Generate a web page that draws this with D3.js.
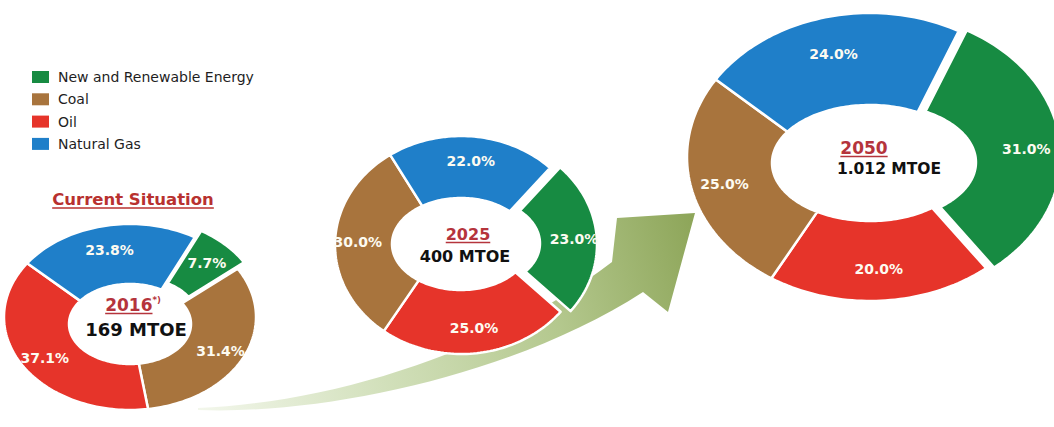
<!DOCTYPE html>
<html>
<head>
<meta charset="utf-8">
<script src="https://cdn.jsdelivr.net/npm/d3@7"></script>
<style>
  html, body { margin: 0; padding: 0; background: #ffffff; }
  svg { display: block; }
</style>
</head>
<body>
<div id="chart"></div>
<script>
// Energy mix: categories and shares (%) per year
const categories = ["New and Renewable Energy", "Coal", "Oil", "Natural Gas"];
const years = ["2016", "2025", "2050"];
const totals = ["169 MTOE", "400 MTOE", "1.012 MTOE"];
const share2016 = [7.7, 31.4, 37.1, 23.8];
const share2025 = [23.0, 30.0, 25.0, 22.0];
const share2050 = [31.0, 25.0, 20.0, 24.0];
const shares = [share2016, share2025, share2050];
const titleText = "Current Situation";

const W = 1054, H = 427;
const color = d3.scaleOrdinal()
  .domain(categories)
  .range(["#178b42", "#a8743d", "#e6342a", "#1f7fc9"]);

// Ring geometry for each donut (elliptical rings, clockwise slice order);
// the hole sits slightly below the ring centre (idy)
const layout = [
  { cx: 130, cy: 317, orx: 126, ory: 93, irx: 61, iry: 40, idy: 7, start: 31, order: [0, 1, 2, 3],
    explode: 9, yearX: 133, yearY: 311, totalX: 136, totalY: 336, yearSize: 17, totalSize: 18, sup: "*)" },
  { cx: 461, cy: 245, orx: 126, ory: 109, irx: 69, iry: 46, idy: -1, start: 45, order: [0, 2, 1, 3],
    explode: 10, yearX: 468, yearY: 240, totalX: 465, totalY: 262, yearSize: 16, totalSize: 16, sup: "" },
  { cx: 870, cy: 157, orx: 183, ory: 144, irx: 98, iry: 58, idy: 6, start: 29, order: [0, 2, 1, 3],
    explode: 8, yearX: 864, yearY: 154, totalX: 889, totalY: 174, yearSize: 17, totalSize: 15.5, sup: "" }
];
const labelT = 0.6;

const svg = d3.select("#chart").append("svg")
  .attr("width", W).attr("height", H)
  .attr("viewBox", `0 0 ${W} ${H}`);

// Growth arrow behind the donuts
const defs = svg.append("defs");
const grad = defs.append("linearGradient")
  .attr("id", "arrowGrad")
  .attr("gradientUnits", "userSpaceOnUse")
  .attr("x1", 195).attr("y1", 400).attr("x2", 700).attr("y2", 250);
grad.append("stop").attr("offset", 0).attr("stop-color", "#f3f7ec");
grad.append("stop").attr("offset", 0.35).attr("stop-color", "#d2e0bb");
grad.append("stop").attr("offset", 0.7).attr("stop-color", "#b4c88e");
grad.append("stop").attr("offset", 1).attr("stop-color", "#8ea65a");

const arrow = d3.path();
arrow.moveTo(198, 408);
arrow.bezierCurveTo(335, 402, 495, 352, 612, 262);
arrow.lineTo(617, 218);
arrow.lineTo(695, 213);
arrow.lineTo(668, 312);
arrow.lineTo(643, 292);
arrow.bezierCurveTo(520, 372, 330, 415, 198, 410);
arrow.closePath();
svg.append("path").attr("d", arrow.toString()).attr("fill", "url(#arrowGrad)");

// Elliptical ring segment between angles a0..a1
function ringPath(a0, a1, g) {
  const n = Math.max(8, Math.ceil((a1 - a0) / (Math.PI / 120)));
  const angs = d3.range(n + 1).map(i => a0 + (a1 - a0) * i / n);
  const outer = angs.map(a => [g.orx * Math.sin(a), -g.ory * Math.cos(a)]);
  const inner = angs.slice().reverse().map(a => [g.irx * Math.sin(a), g.idy - g.iry * Math.cos(a)]);
  return d3.line()(outer.concat(inner)) + "Z";
}

const toRad = d => d * Math.PI / 180;

layout.forEach((g, k) => {
  const data = g.order.map(i => ({ cat: categories[i], value: shares[k][i] }));
  const pie = d3.pie().sort(null).value(d => d.value)
    .startAngle(toRad(g.start)).endAngle(toRad(g.start) + 2 * Math.PI);
  const arcs = pie(data);
  const grp = svg.append("g").attr("transform", `translate(${g.cx},${g.cy})`);

  const slice = grp.selectAll("g.slice").data(arcs).join("g")
    .attr("class", "slice")
    .attr("transform", d => {
      if (d.data.cat !== categories[0]) return null;
      const m = (d.startAngle + d.endAngle) / 2;
      return `translate(${g.explode * Math.sin(m)},${-g.explode * Math.cos(m)})`;
    });

  slice.append("path")
    .attr("d", d => ringPath(d.startAngle, d.endAngle, g))
    .attr("fill", d => color(d.data.cat))
    .attr("stroke", "#ffffff")
    .attr("stroke-width", 2.5)
    .attr("stroke-linejoin", "round");

  slice.append("text")
    .attr("x", d => {
      const m = (d.startAngle + d.endAngle) / 2;
      return (g.irx + labelT * (g.orx - g.irx)) * Math.sin(m);
    })
    .attr("y", d => {
      const m = (d.startAngle + d.endAngle) / 2;
      return g.idy / 2 - (g.iry + labelT * (g.ory - g.iry)) * Math.cos(m);
    })
    .attr("text-anchor", "middle")
    .attr("dominant-baseline", "central")
    .attr("font-family", "'DejaVu Sans', Verdana, sans-serif")
    .attr("font-weight", "bold")
    .attr("font-size", 14)
    .attr("fill", "#fdfbf1")
    .text(d => d.value.toFixed(1) + "%");

  // Year (underlined) and total inside the hole
  const yt = svg.append("text")
    .attr("x", g.yearX).attr("y", g.yearY)
    .attr("text-anchor", "middle")
    .attr("font-family", "'DejaVu Sans', Verdana, sans-serif")
    .attr("font-weight", "bold")
    .attr("font-size", g.yearSize)
    .attr("fill", "#b5343c");
  const yMain = yt.append("tspan").text(years[k]);
  if (g.sup) {
    yt.append("tspan")
      .attr("font-size", g.yearSize * 0.5)
      .attr("dy", -g.yearSize * 0.45)
      .text(g.sup);
  }
  const len = yMain.node().getComputedTextLength();
  const full = yt.node().getComputedTextLength();
  const x0 = g.yearX - full / 2;
  svg.append("line")
    .attr("x1", x0).attr("x2", x0 + len)
    .attr("y1", g.yearY + 2.5).attr("y2", g.yearY + 2.5)
    .attr("stroke", "#b5343c").attr("stroke-width", 1.6);

  svg.append("text")
    .attr("x", g.totalX).attr("y", g.totalY)
    .attr("text-anchor", "middle")
    .attr("font-family", "'DejaVu Sans', Verdana, sans-serif")
    .attr("font-weight", "bold")
    .attr("font-size", g.totalSize)
    .attr("fill", "#111111")
    .text(totals[k]);
});

// Title above the first donut
const tt = svg.append("text")
  .attr("x", 133).attr("y", 205)
  .attr("text-anchor", "middle")
  .attr("font-family", "'DejaVu Sans', Verdana, sans-serif")
  .attr("font-weight", "bold")
  .attr("font-size", 16.5)
  .attr("fill", "#b8312f")
  .text(titleText);
const tl = tt.node().getComputedTextLength();
svg.append("line")
  .attr("x1", 133 - tl / 2).attr("x2", 133 + tl / 2)
  .attr("y1", 208).attr("y2", 208)
  .attr("stroke", "#b8312f").attr("stroke-width", 1.5);

// Legend
const legend = svg.append("g").attr("transform", "translate(32,71)");
const row = legend.selectAll("g").data(categories).join("g")
  .attr("transform", (d, i) => `translate(0,${i * 22.3})`);
row.append("rect")
  .attr("width", 17).attr("height", 12)
  .attr("fill", d => color(d));
row.append("text")
  .attr("x", 26).attr("y", 6)
  .attr("dominant-baseline", "central")
  .attr("font-family", "'DejaVu Sans', Verdana, sans-serif")
  .attr("font-size", 14)
  .attr("fill", "#1e1e1e")
  .text(d => d);
</script>
</body>
</html>
